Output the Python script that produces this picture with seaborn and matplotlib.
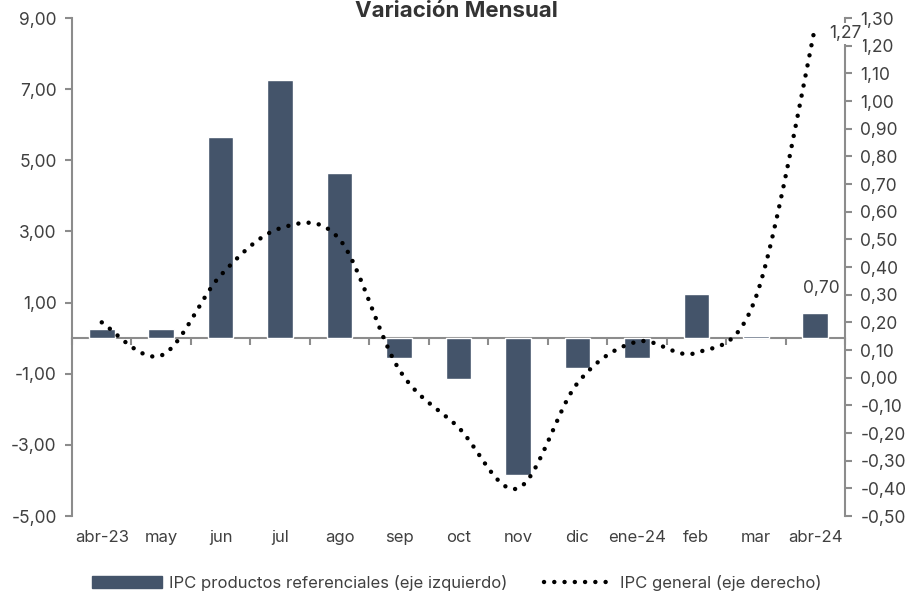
import numpy as np
import pandas as pd
import seaborn as sns
import matplotlib.pyplot as plt
from matplotlib.ticker import FuncFormatter, MultipleLocator
from matplotlib.patches import Patch
from matplotlib.lines import Line2D

# datos
meses = ['abr-23', 'may', 'jun', 'jul', 'ago', 'sep', 'oct', 'nov', 'dic',
         'ene-24', 'feb', 'mar', 'abr-24']
ipc_referenciales = [0.25, 0.25, 5.65, 7.27, 4.65, -0.57, -1.15, -3.85, -0.85,
                     -0.56, 1.24, 0.05, 0.70]
ipc_general = [0.20, 0.08, 0.37, 0.54, 0.50, 0.03, -0.18, -0.40, -0.02,
               0.13, 0.09, 0.29, 1.27]

COLOR_BARRA = '#44546A'
GRIS = '#8C8C8C'
TEXTO = '#404040'
PUNTOS = (0, (0.01, 2.3))


def curva_suave(valores, pasos=24):
    # linea suavizada tipo Excel (Catmull-Rom) entre los puntos mensuales
    y = np.asarray(valores, float)
    x = np.arange(len(y), dtype=float)
    px = np.concatenate([[x[0]], x, [x[-1]]])
    py = np.concatenate([[y[0]], y, [y[-1]]])
    t = np.linspace(0, 1, pasos, endpoint=False)
    xs, ys = [], []
    for i in range(len(y) - 1):
        for p, out in ((px, xs), (py, ys)):
            p0, p1, p2, p3 = p[i], p[i + 1], p[i + 2], p[i + 3]
            out.extend(0.5 * (2 * p1 + (-p0 + p2) * t
                              + (2 * p0 - 5 * p1 + 4 * p2 - p3) * t ** 2
                              + (-p0 + 3 * p1 - 3 * p2 + p3) * t ** 3))
    xs.append(x[-1])
    ys.append(y[-1])
    return pd.DataFrame({'x': xs, 'y': ys})


def coma(v, pos=None):
    v = round(v, 2)
    if v == 0:
        v = 0.0
    return f'{v:.2f}'.replace('.', ',')


sns.set_theme(style='white')
plt.rcParams['font.family'] = ['Inter', 'DejaVu Sans']

df = pd.DataFrame({'mes': meses, 'ref': ipc_referenciales})

fig, ax = plt.subplots(figsize=(9.14, 5.91), dpi=100)
fig.subplots_adjust(left=0.0788, right=0.9245, top=0.9695, bottom=0.1269)

sns.barplot(data=df, x='mes', y='ref', color=COLOR_BARRA, width=0.43,
            saturation=1, ax=ax)
ax.set_xlim(-0.5, len(meses) - 0.5)
ax.set_ylim(-5, 9)
ax.set_yticks(np.arange(-5, 9.1, 2))
ax.yaxis.set_major_formatter(FuncFormatter(coma))
ax.set_xlabel('')
ax.set_ylabel('')
for s in ['top', 'bottom', 'right']:
    ax.spines[s].set_visible(False)
ax.spines['left'].set_color(GRIS)
ax.spines['left'].set_linewidth(1.5)
ax.tick_params(axis='y', left=True, length=5, width=1.5, color=GRIS,
               labelsize=12.5, labelcolor=TEXTO, pad=6)
ax.tick_params(axis='x', bottom=False, length=0, labelsize=12, labelcolor=TEXTO, pad=10)

# eje horizontal en cero con marcas entre categorias
eje0 = ax.secondary_xaxis(5 / 14)
eje0.set_xticks(np.arange(-0.5, len(meses), 1))
eje0.set_xticklabels([])
eje0.spines['bottom'].set_color(GRIS)
eje0.spines['bottom'].set_linewidth(1.5)
eje0.tick_params(length=5, width=1.5, color=GRIS)

ax.annotate('0,70', (len(meses) - 1, ipc_referenciales[-1]), xytext=(4, 18),
            textcoords='offset points', ha='center', va='center',
            fontsize=12.5, color=TEXTO)

# eje derecho: IPC general
ax2 = ax.twinx()
curva = curva_suave(ipc_general)
sns.lineplot(data=curva, x='x', y='y', sort=False, ax=ax2, color='black',
             linewidth=3.2, linestyle=PUNTOS, dash_capstyle='round')
ax2.set_ylim(-0.5, 1.3)
ax2.set_yticks(np.arange(-0.5, 1.31, 0.1))
ax2.yaxis.set_major_formatter(FuncFormatter(coma))
ax2.set_xlabel('')
ax2.set_ylabel('')
for s in ['top', 'bottom', 'left']:
    ax2.spines[s].set_visible(False)
ax2.spines['right'].set_color(GRIS)
ax2.spines['right'].set_linewidth(1.5)
ax2.tick_params(axis='y', right=True, length=5, width=1.5, color=GRIS,
                labelsize=12.5, labelcolor=TEXTO, pad=6)
ax2.annotate('1,27', (len(meses) - 1, ipc_general[-1]), xytext=(10, -5),
             textcoords='offset points', ha='left', va='center',
             fontsize=12.5, color=TEXTO,
             bbox=dict(boxstyle='square,pad=0.1', fc='white', ec='none'))

fig.text(0.4989, 1 - 17 / 591, 'Variación Mensual', ha='center', va='baseline',
         fontsize=16, fontweight='bold', color='#333333')

handles = [Patch(facecolor=COLOR_BARRA, edgecolor=COLOR_BARRA),
           Line2D([], [], color='black', linewidth=3.2,
                  linestyle=PUNTOS, dash_capstyle='round')]
fig.legend(handles, ['IPC productos referenciales (eje izquierdo)',
                     'IPC general (eje derecho)'],
           loc='center', bbox_to_anchor=(0.5, 1 - 583 / 591), ncol=2,
           frameon=False, fontsize=12, handlelength=4.2, handleheight=0.7,
           handletextpad=0.4, columnspacing=2.2, labelcolor=TEXTO)

fig.savefig('out.png', dpi=100)
